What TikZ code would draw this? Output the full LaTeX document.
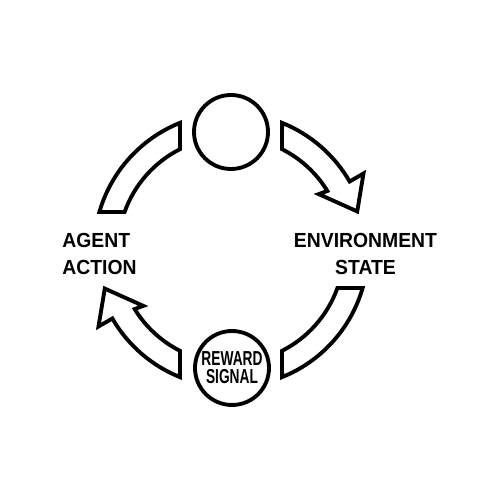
\documentclass[tikz,border=0pt]{standalone}
\usepackage{fontspec}
\setmainfont[FakeStretch=0.95]{Liberation Sans}
\newfontfamily\narrowfont[FakeStretch=0.68]{Liberation Sans}
\usetikzlibrary{calc}

\begin{document}
\begin{tikzpicture}[x=0.02cm, y=0.02cm,
        band/.style={line width=2.2pt, line join=miter},
        ring/.style={circle, draw, line width=2.2pt, minimum size=1.48cm, inner sep=0pt},
        lbl/.style={inner sep=0pt, font=\bfseries\fontsize{11.6}{15.4}\selectfont}]
        \useasboundingbox (0,0) rectangle (500,500);
        \coordinate (c) at (231,250);
        % the two circles
        \node[ring] (top) at (231,368) {};
        \node[ring, font=\narrowfont\bfseries\fontsize{11.5}{10.2}\selectfont, align=center] (reward) at (232,132) {REWARD\\SIGNAL};
        % the four bands round the cycle
        \draw[band] ($(c)+(111.9:137)$) arc[start angle=111.9, end angle=163.9, radius=137] -- ($(c)+(160.35:113)$) arc[start angle=160.35, end angle=116.8, radius=113] -- cycle;
        \draw[band] ($(c)+(68.1:137)$) arc[start angle=68.1, end angle=30, radius=137] -- ($(c)+(30:153)$) -- ($(c)+(17:132)$) -- ($(c)+(32.5:104)$) -- ($(c)+(31.5:113)$) arc[start angle=31.5, end angle=63.2, radius=113] -- cycle;
        \draw[band] ($(c)+(291.9:137)$) arc[start angle=291.9, end angle=343.9, radius=137] -- ($(c)+(340.35:113)$) arc[start angle=340.35, end angle=296.8, radius=113] -- cycle;
        \draw[band] ($(c)+(248.1:137)$) arc[start angle=248.1, end angle=210, radius=137] -- ($(c)+(210:153)$) -- ($(c)+(197:132)$) -- ($(c)+(212.5:104)$) -- ($(c)+(211.5:113)$) arc[start angle=211.5, end angle=243.2, radius=113] -- cycle;
        % labels
        \node[lbl, anchor=west, align=left] (agent) at (62,246) {AGENT\\ACTION};
        \node[lbl, align=center] (env) at (365.5,246) {ENVIRONMENT\\STATE};
    \end{tikzpicture}
\end{document}
